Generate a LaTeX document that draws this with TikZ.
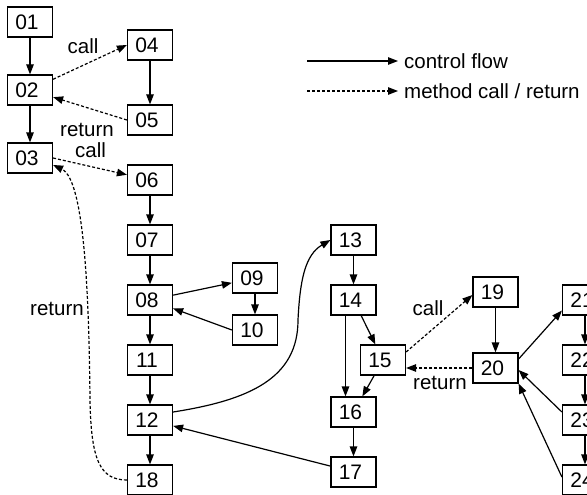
\documentclass[tikz,border=0pt]{standalone}
\usepackage{fontspec}
\setmainfont{Liberation Sans}
\usetikzlibrary{arrows.meta,calc}
\begin{document}
\begin{tikzpicture}[x=1pt,y=-1pt,
  box/.style={draw, line width=1.2pt, minimum width=45pt, minimum height=30pt, inner sep=0pt,
    font=\fontsize{21}{25}\selectfont, execute at begin node=\hspace*{-6pt}},
  flow/.style={line width=1.2pt, -{Triangle[length=10pt,width=7.5pt]}},
  callret/.style={flow, dash pattern=on 3pt off 2pt},
  lbl/.style={font=\fontsize{20.5}{25}\selectfont, inner sep=0pt}]
\useasboundingbox (0,0) rectangle (587,495);
\fill[white] (0,0) rectangle (587,495);
\clip (0,0) rectangle (587,495);

% nodes
\node[box] (n01) at (30,22) {01};
\node[box] (n02) at (30,90) {02};
\node[box] (n03) at (30,158) {03};
\node[box] (n04) at (150,45) {04};
\node[box] (n05) at (150,120) {05};
\node[box] (n06) at (150,180) {06};
\node[box] (n07) at (150,240) {07};
\node[box] (n08) at (150,300) {08};
\node[box] (n09) at (255,278) {09};
\node[box] (n10) at (255,330) {10};
\node[box] (n11) at (150,360) {11};
\node[box] (n12) at (150,420) {12};
\node[box] (n18) at (150,480) {18};
\node[box] (n13) at (353.5,240) {13};
\node[box] (n14) at (353.5,300) {14};
\node[box] (n15) at (383,360) {15};
\node[box] (n16) at (353.5,412) {16};
\node[box] (n17) at (353.5,472) {17};
\node[box] (n19) at (495.5,292) {19};
\node[box] (n20) at (495.5,368) {20};
\node[box] (n21) at (585,300) {21};
\node[box] (n22) at (585,360) {22};
\node[box] (n23) at (585,420) {23};
\node[box] (n24) at (585,480) {24};

% control flow
\draw[flow] (n01) -- (n02);
\draw[flow] (n02) -- (n03);
\draw[flow] (n04) -- (n05);
\draw[flow] (n06) -- (n07);
\draw[flow] (n07) -- (n08);
\draw[flow] (n08) -- (n09);
\draw[flow] (n09) -- (n10);
\draw[flow] (n10.west) -- (n08);
\draw[flow] (n08) -- (n11);
\draw[flow] (n11) -- (n12);
\draw[flow] (n12) -- (n18);
\draw[flow] ([yshift=8pt]n12.east) .. controls (250,400) and (298,378) .. (298,320)
  .. controls (300,280) and (305,255) .. (n13.west);
\draw[flow] (n13) -- (n14);
\draw[flow] ([xshift=-8pt]n14.south) -- ([xshift=-8pt]n16.north);
\draw[flow] (n14) -- (n15);
\draw[flow] (n15) -- (n16);
\draw[flow] (n16) -- (n17);
\draw[flow] (n17) -- (n12);
\draw[flow] (n19) -- (n20);
\draw[flow] ([yshift=9pt]n20.east) -- ([yshift=5pt]n21.south west);
\draw[flow] (n21) -- (n22);
\draw[flow] (n22) -- (n23);
\draw[flow] (n23) -- (n24);
\draw[flow] ([yshift=8pt]n23.west) -- ([yshift=-2pt]n20.east);
\draw[flow] ([yshift=3pt]n24.west) -- (n20.south east);

% method call / return
\draw[callret] (n02) -- (n04.west);
\draw[callret] (n05.west) -- (n02);
\draw[callret] (n03.east) -- (n06);
\draw[callret] (n18.west) .. controls (100,480) and (91,460) .. (90,400)
  .. controls (89,300) and (85,180) .. ([yshift=-7pt]n03.east);
\draw[callret] ([yshift=8pt]n15.east) -- ([yshift=-3pt]n19.west);
\draw[callret] (n20.west) -- (n20.west -| n15.east);

% labels
\node[lbl] (lcall1) at (83,46) {call};
\node[lbl] (lret1) at (87,130) {return};
\node[lbl] (lcall2) at (90.5,150) {call};
\node[lbl] (lret2) at (57,309) {return};
\node[lbl] (lcall3) at (428,308) {call};
\node[lbl] (lret3) at (440,383) {return};

% legend
\coordinate (lg1) at (307,61);
\coordinate (lg2) at (307,91);
\node[lbl, anchor=west, inner xsep=6pt] (lgt1) at (398,61) {control flow};
\node[lbl, anchor=west, inner xsep=6pt] (lgt2) at (398,91) {method call / return};
\draw[flow] (lg1) -- (lgt1.west);
\draw[callret] (lg2) -- (lgt2.west);
\end{tikzpicture}
\end{document}
